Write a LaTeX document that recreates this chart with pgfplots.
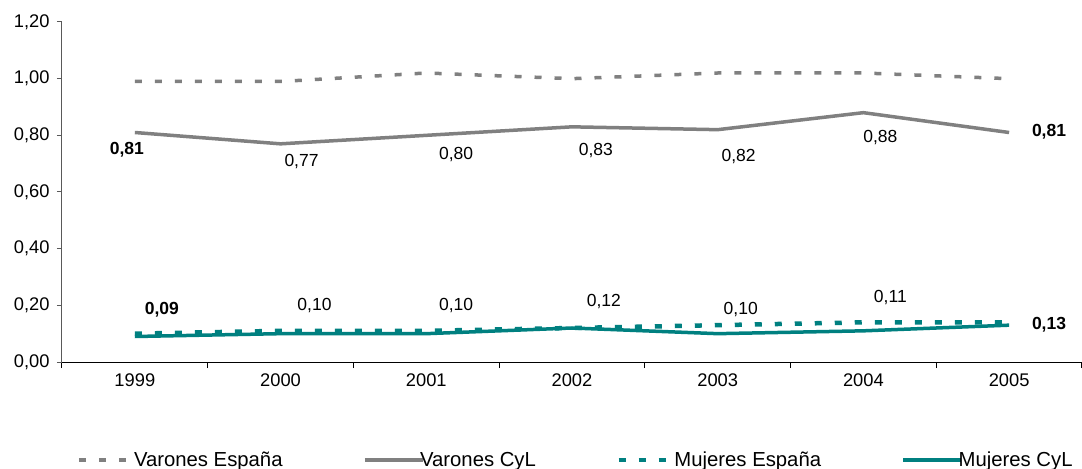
\documentclass[border=0pt]{standalone}
\usepackage{fontspec}
\setmainfont{Liberation Sans}
\usepackage{pgfplots}
\pgfplotsset{compat=1.18}

\definecolor{gris}{RGB}{128,128,128}
\definecolor{verde}{RGB}{0,128,128}

\newcommand{\lbl}{\fontsize{17.5bp}{20bp}\selectfont}

\begin{document}
\begin{tikzpicture}
\path[use as bounding box] (-62bp,-107bp) rectangle (1020bp,362bp);
\begin{axis}[
  scale only axis,
  width=1020bp, height=340bp,
  xmin=-0.5, xmax=6.5,
  ymin=0, ymax=1.2,
  axis lines*=left,
  x axis line style={black, line width=1bp},
  y axis line style={black!65, line width=1bp},
  xtick={0,...,6},
  xticklabels={1999,2000,2001,2002,2003,2004,2005},
  major x tick style={draw=none},
  minor xtick={-0.5,0.5,...,6.5},
  minor x tick style={black, line width=1bp},
  minor tick length=6bp,
  ytick={0,0.2,0.4,0.6,0.8,1.0,1.2},
  y tick style={black!65, line width=1bp},
  major tick length=5bp,
  tick align=outside,
  tick label style={font=\fontsize{18.3bp}{21bp}\selectfont},
  /pgf/number format/assume math mode=true,
  yticklabel style={/pgf/number format/.cd, fixed, fixed zerofill, precision=2, use comma, /tikz/.cd, xshift=-4bp},
  xticklabel style={yshift=-3bp},
  legend columns=4,
  legend style={
    at={(axis description cs:0.503,-0.288)}, anchor=center,
    draw=none, fill=none,
    font=\fontsize{20.3bp}{23bp}\selectfont,
    /tikz/every even column/.append style={column sep=80bp},
    /tikz/every odd column/.append style={column sep=-5bp},
    nodes={inner xsep=0.5bp},
  },
  legend image code/.code={\draw[#1] (0bp,0bp) -- (58bp,0bp);},
  clip=false,
]
% Varones España
\addplot[gris, line width=3.5bp, dash pattern=on 7bp off 13bp]
  coordinates {(0,0.99)(1,0.99)(2,1.02)(3,1.00)(4,1.02)(5,1.02)(6,1.00)};
\addlegendentry{Varones España}
% Varones CyL
\addplot[gris, line width=3.5bp]
  coordinates {(0,0.81)(1,0.77)(2,0.80)(3,0.83)(4,0.82)(5,0.88)(6,0.81)};
\addlegendentry{Varones CyL}
% Mujeres España
\addplot[verde, line width=4.5bp, dash pattern=on 7bp off 13bp]
  coordinates {(0,0.10)(1,0.11)(2,0.11)(3,0.12)(4,0.13)(5,0.14)(6,0.14)};
\addlegendentry{Mujeres España}
% Mujeres CyL
\addplot[verde, line width=3.5bp]
  coordinates {(0,0.09)(1,0.10)(2,0.10)(3,0.12)(4,0.10)(5,0.11)(6,0.13)};
\addlegendentry{Mujeres CyL}

% etiquetas de valor, Varones CyL
\node[font=\lbl\bfseries] at (axis cs:-0.055,0.748) {0,81};
\node[font=\lbl] at (axis cs:1.144,0.706) {0,77};
\node[font=\lbl] at (axis cs:2.205,0.734) {0,80};
\node[font=\lbl] at (axis cs:3.164,0.748) {0,83};
\node[font=\lbl] at (axis cs:4.144,0.727) {0,82};
\node[font=\lbl] at (axis cs:5.116,0.791) {0,88};
\node[font=\lbl\bfseries] at (axis cs:6.274,0.812) {0,81};
% etiquetas de valor, Mujeres CyL
\node[font=\lbl\bfseries] at (axis cs:0.185,0.184) {0,09};
\node[font=\lbl] at (axis cs:1.233,0.201) {0,10};
\node[font=\lbl] at (axis cs:2.205,0.201) {0,10};
\node[font=\lbl] at (axis cs:3.219,0.212) {0,12};
\node[font=\lbl] at (axis cs:4.158,0.187) {0,10};
\node[font=\lbl] at (axis cs:5.185,0.229) {0,11};
\node[font=\lbl\bfseries] at (axis cs:6.274,0.131) {0,13};
\end{axis}
\end{tikzpicture}
\end{document}
